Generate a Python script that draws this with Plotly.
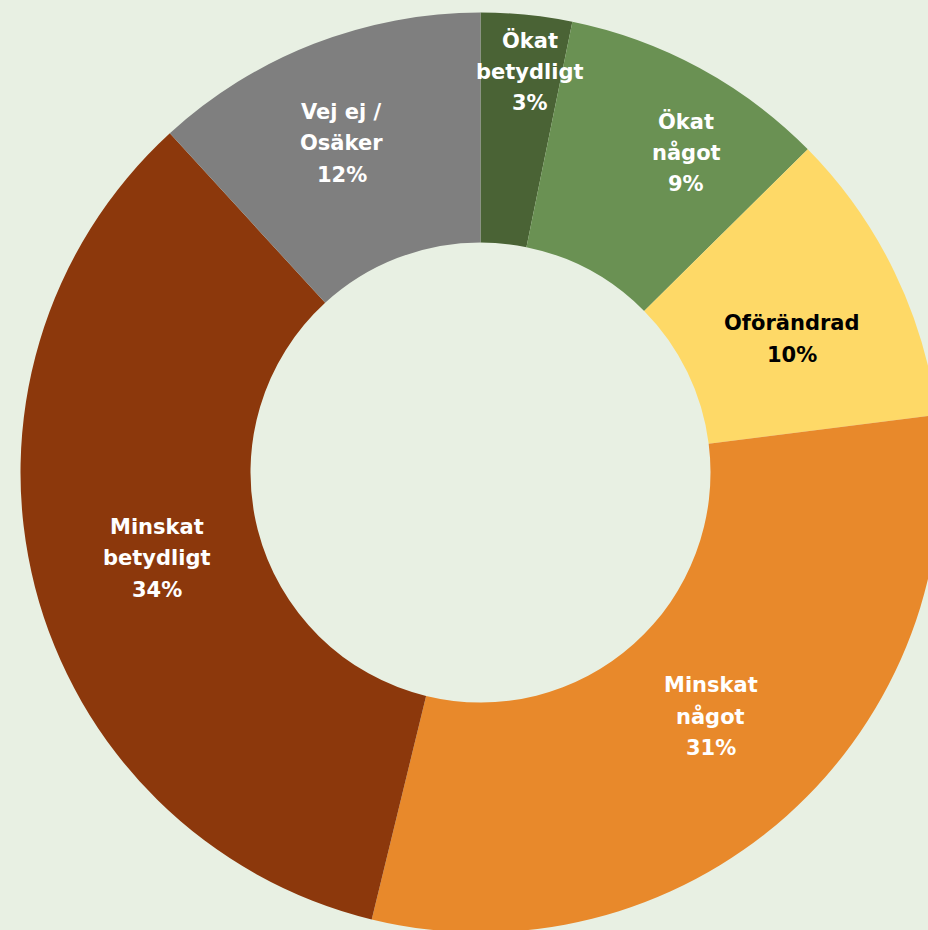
import math
import plotly.graph_objects as go

# ---- data ----
labels = ["Ökat<br>betydligt", "Ökat<br>något", "Oförändrad",
          "Minskat<br>något", "Minskat<br>betydligt", "Vej ej /<br>Osäker"]
values = [3.2, 9.4, 10.4, 30.8, 34.4, 11.8]

# ---- style ----
colors = ["#4A6335", "#6A9153", "#FED967", "#E8892B", "#8C380C", "#7F7F7F"]
text_colors = ["white", "white", "black", "white", "white", "white"]
label_radius = [404, 380, 339, 335, 335, 357]      # px from centre
label_angle_adj = [1.3, 4.3, 2.7, -1.6, -0.4, -1.6]  # degrees
BG = "#E8F0E3"
FONT = "DejaVu Sans"
FONT_SIZE = 21
LINE_H = 31.5

W, H = 950, 940
CX, CY, R = 480.5, 472.5, 460

fig = go.Figure(go.Pie(
    labels=labels, values=values, hole=0.5, sort=False,
    direction="clockwise", rotation=0,
    marker=dict(colors=colors, line=dict(width=0)),
    textinfo="none", hoverinfo="label+percent",
    domain=dict(x=[(CX - R) / W, (CX + R) / W],
                y=[(H - CY - R) / H, (H - CY + R) / H]),
))

total = sum(values)
cum = 0.0
annotations = []
for i, (lab, v) in enumerate(zip(labels, values)):
    mid = (cum + v / 2) / total * 360 + label_angle_adj[i]
    cum += v
    px = CX + label_radius[i] * math.sin(math.radians(mid))
    py = CY - label_radius[i] * math.cos(math.radians(mid))
    lines = lab.split("<br>") + [f"{round(v / total * 100)}%"]
    n = len(lines)
    for j, line in enumerate(lines):
        ly = py + (j - (n - 1) / 2) * LINE_H
        annotations.append(dict(
            x=px / W, y=1 - ly / H, xref="paper", yref="paper",
            text=f"<b>{line}</b>", showarrow=False,
            xanchor="center", yanchor="middle",
            font=dict(family=FONT, size=FONT_SIZE, color=text_colors[i]),
        ))

fig.update_layout(
    width=W, height=H, margin=dict(l=0, r=0, t=0, b=0),
    paper_bgcolor=BG, plot_bgcolor=BG, showlegend=False,
    annotations=annotations,
)

fig.write_html(
    "out.html",
    config={"displayModeBar": False},
    post_script=(
        "document.body.style.margin='0';"
        "document.body.style.overflow='hidden';"
        "document.documentElement.style.overflow='hidden';"
        f"document.body.style.background='{BG}';"
    ),
)
